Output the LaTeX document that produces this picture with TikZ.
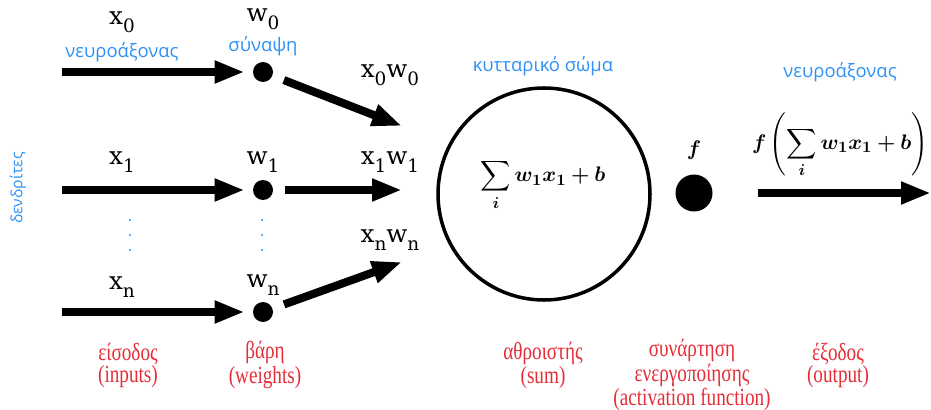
\documentclass[tikz,border=0pt]{standalone}
\usepackage{amsmath}
\usepackage{bm}
\usepackage{fontspec}
\newfontfamily\slabfont{DejaVu Serif}
\newfontfamily\bluefont{Open Sans}
\newfontfamily\redfont[FakeStretch=0.78]{Liberation Serif}
\usetikzlibrary{arrows.meta,positioning}
\definecolor{axonblue}{RGB}{45,145,245}
\definecolor{labelred}{RGB}{230,45,55}
\newcommand{\lowsub}[1]{\raisebox{-0.6ex}{\fontsize{10.5}{12}\selectfont #1}}

\begin{document}
\begin{tikzpicture}[
    signal/.style={line width=4.6pt, -{Triangle[length=0.6cm,width=0.42cm]}},
    synapse/.style={circle, fill=black, minimum size=0.4cm, inner sep=0pt},
    varlab/.style={font=\slabfont\fontsize{14}{16}\selectfont, inner sep=1pt},
    formula/.style={font=\fontsize{13}{15}\selectfont, inner sep=1pt},
    bluelab/.style={text=axonblue, font=\bluefont\fontsize{10.5}{12}\selectfont, inner sep=1pt},
    redlab/.style={text=labelred, align=center, font=\redfont\fontsize{14}{12.5}\selectfont, inner sep=1pt}
]
\useasboundingbox (0,0) rectangle (18.62,-8.2);

% inputs and weights
\coordinate (in0) at (1.24,-1.44);
\coordinate (in1) at (1.24,-3.8);
\coordinate (inn) at (1.24,-6.24);
\node[synapse] (w0) at (5.26,-1.44) {};
\node[synapse] (w1) at (5.26,-3.8) {};
\node[synapse] (wn) at (5.26,-6.24) {};

\node[varlab] (x0lab) at (2.44,-0.44) {x\lowsub{0}};
\node[varlab] (x1lab) at (2.44,-3.24) {x\lowsub{1}};
\node[varlab] (xnlab) at (2.44,-5.74) {x\lowsub{n}};
\node[varlab] (w0lab) at (5.26,-0.38) {w\lowsub{0}};
\node[varlab] (w1lab) at (5.26,-3.24) {w\lowsub{1}};
\node[varlab] (wnlab) at (5.26,-5.70) {w\lowsub{n}};
\node[bluelab] (axonin) at (2.44,-1.04) {νευροάξονας};
\node[bluelab] (synlab) at (5.26,-0.92) {σύναψη};
\node[bluelab, rotate=90, scale=0.85] (dendr) at (0.36,-3.76) {δενδρίτες};

\foreach \y in {-4.4,-4.7,-5.0} {
    \fill[axonblue] (2.6,\y) circle (0.022);
    \fill[axonblue] (5.24,\y) circle (0.022);
}

\draw[signal, shorten >=0.16cm] (in0) -- (w0);
\draw[signal, shorten >=0.16cm] (in1) -- (w1);
\draw[signal, shorten >=0.16cm] (inn) -- (wn);

% weighted signals
\coordinate (s0) at (8.04,-2.52);
\coordinate (s1) at (8.04,-3.8);
\coordinate (sn) at (8.04,-5.24);
\draw[signal, shorten <=0.24cm] (w0) -- (s0);
\draw[signal, shorten <=0.24cm] (w1) -- (s1);
\draw[signal, shorten <=0.24cm] (wn) -- (sn);

\node[varlab] (p0lab) at (7.8,-1.5) {x\lowsub{0}w\lowsub{0}};
\node[varlab] (p1lab) at (7.8,-3.24) {x\lowsub{1}w\lowsub{1}};
\node[varlab] (pnlab) at (7.8,-4.8) {x\lowsub{n}w\lowsub{n}};

% cell body
\node[circle, draw, line width=2pt, minimum size=4.24cm] (body) at (10.88,-3.88) {};
\node[formula] (weightsum) at (10.86,-3.7) {$\displaystyle\sum_{\bm{i}} \bm{w_1x_1+b}$};
\node[bluelab] (bodylab) at (10.86,-1.32) {κυτταρικό σώμα};

% activation and output
\node[synapse, minimum size=0.74cm] (fdot) at (13.88,-3.86) {};
\node[formula] (flab) at (13.88,-3.0) {$\bm{f}$};
\coordinate (out) at (18.62,-3.86);
\draw[signal, shorten <=0.9cm] (fdot) -- (out);
\node[formula] (outlab) at (16.8,-2.9) {$\displaystyle\bm{f}\left(\sum_{\bm{i}} \bm{w_1x_1+b}\right)$};
\node[bluelab] (axonout) at (16.8,-1.44) {νευροάξονας};

% captions
\node[redlab] (inputs) at (2.56,-7.3) {είσοδος\\(inputs)};
\node[redlab] (weights) at (5.3,-7.3) {βάρη\\(weights)};
\node[redlab] (adder) at (10.86,-7.3) {αθροιστής\\(sum)};
\node[redlab] (activ) at (13.84,-7.5) {συνάρτηση\\ενεργοποίησης\\(activation function)};
\node[redlab] (output) at (16.76,-7.3) {έξοδος\\(output)};

\end{tikzpicture}
\end{document}
